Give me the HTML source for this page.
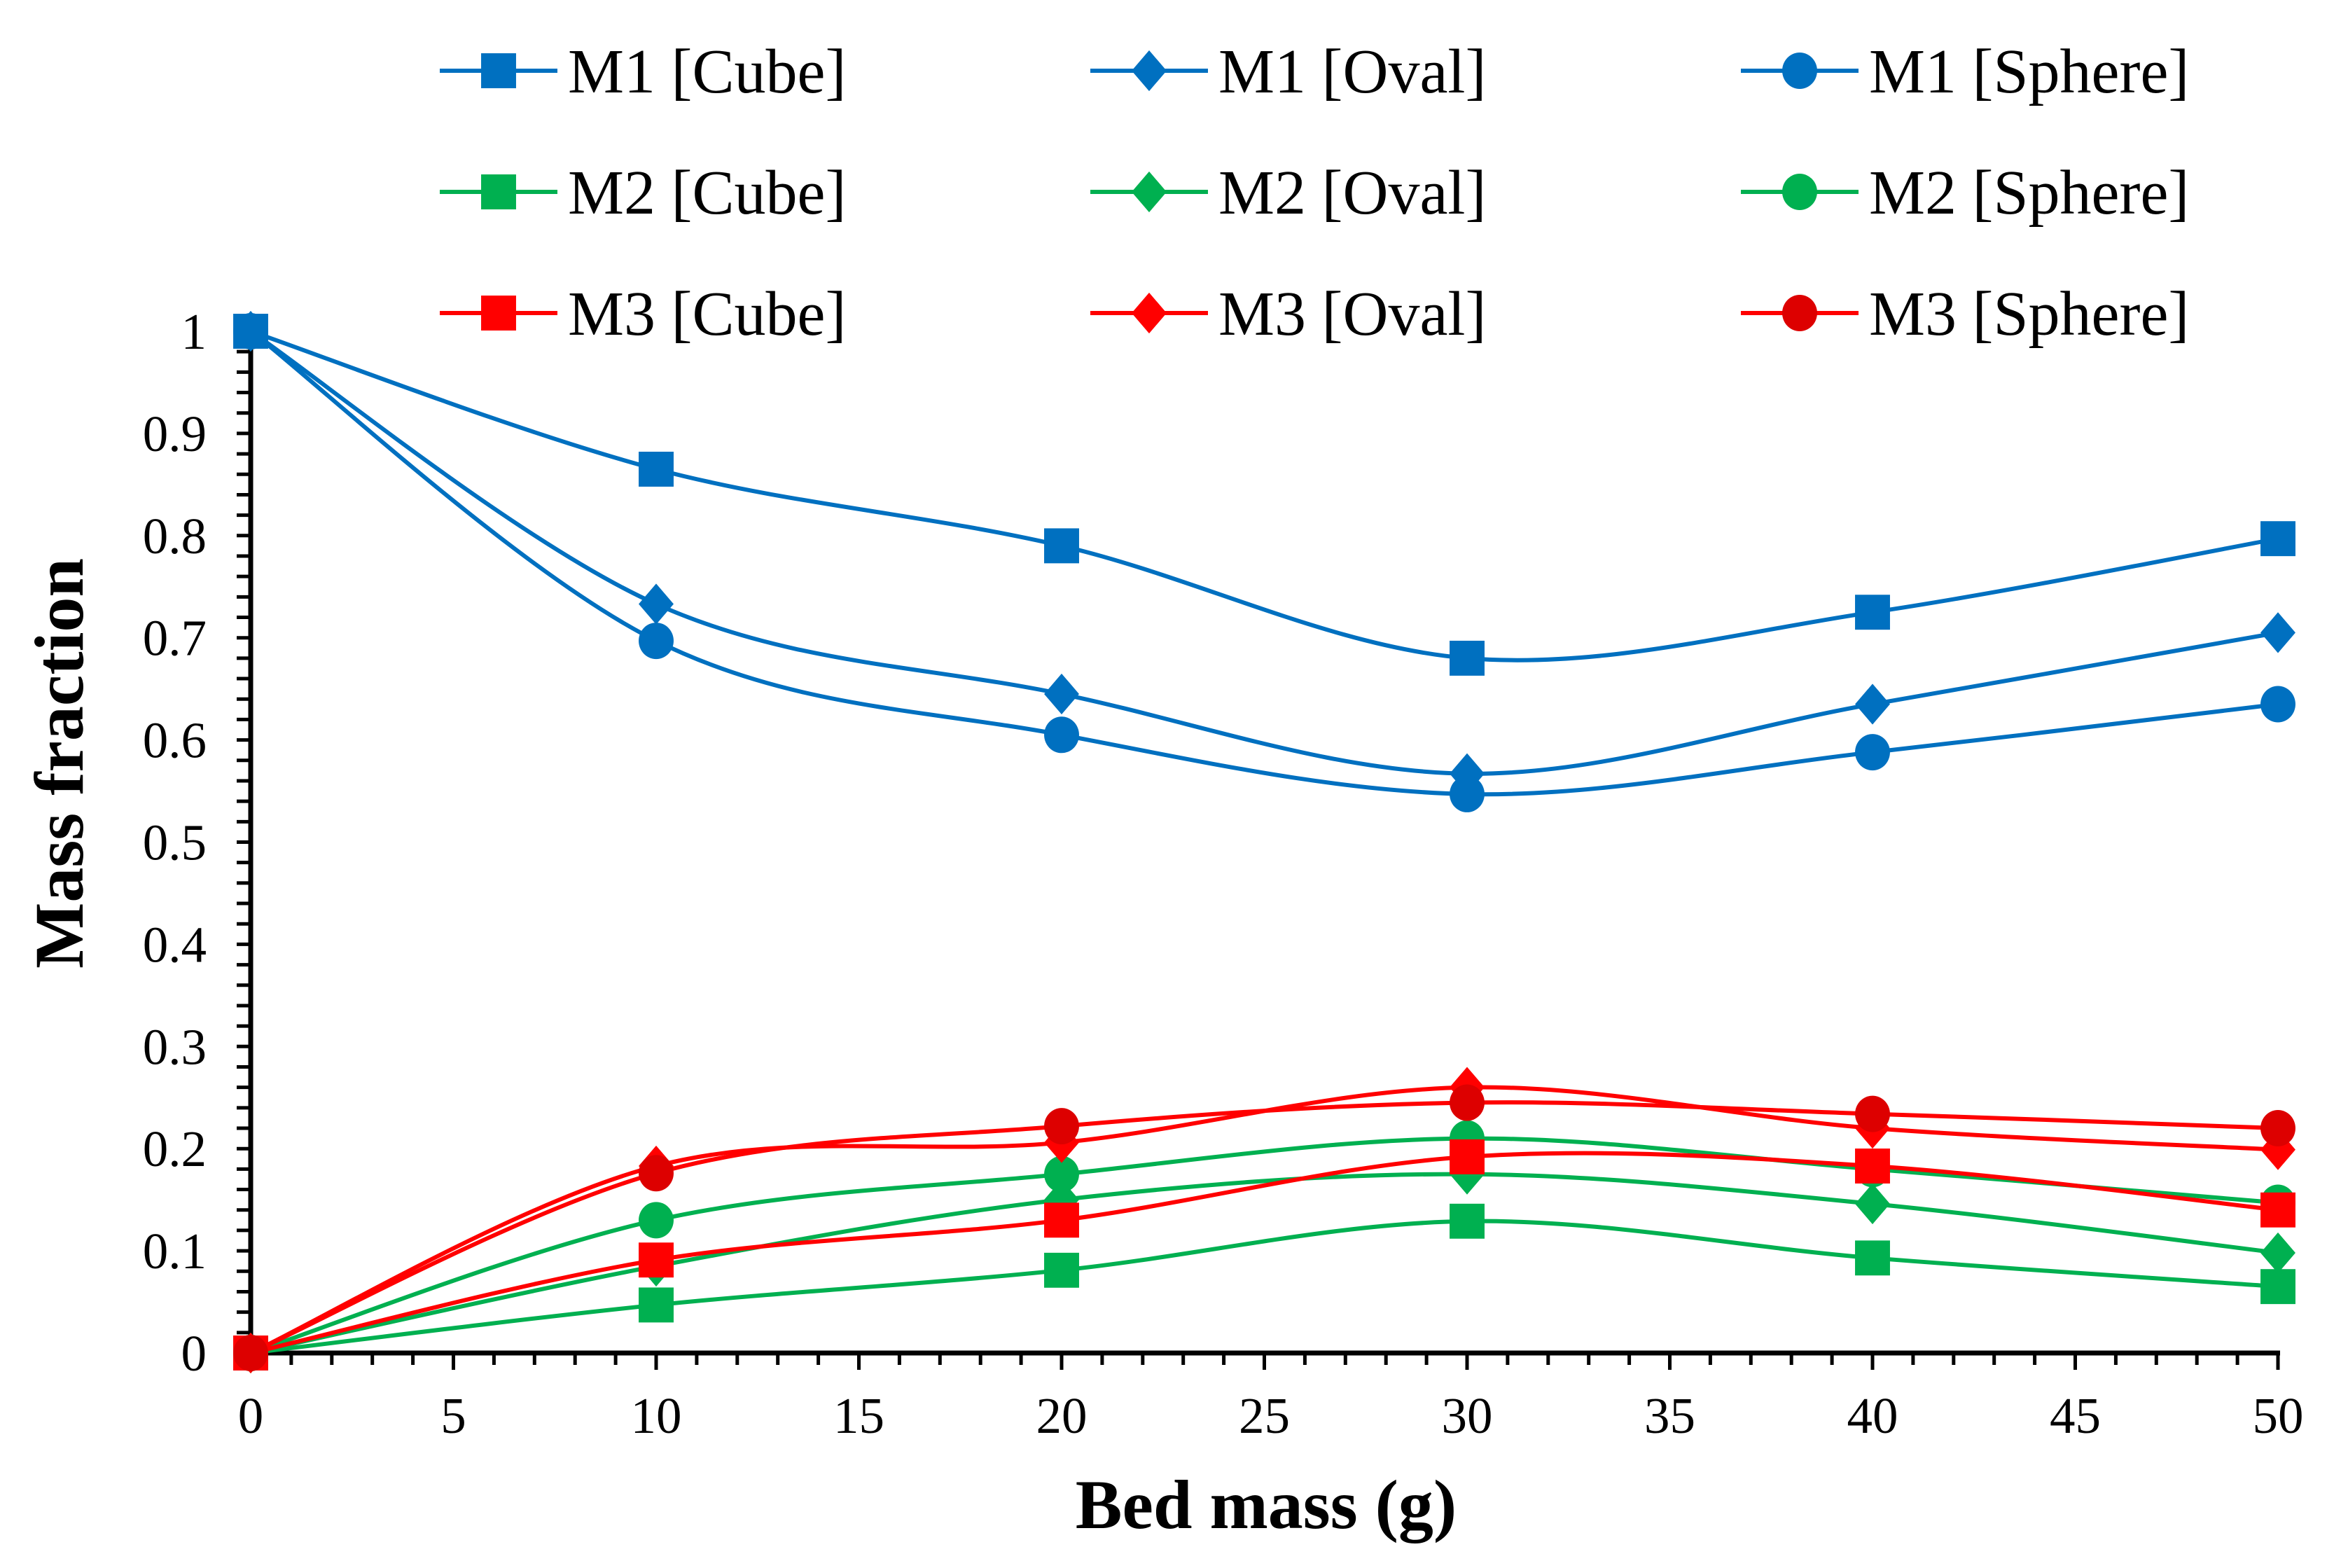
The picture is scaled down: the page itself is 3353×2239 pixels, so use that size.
<!DOCTYPE html>
<html><head><meta charset="utf-8"><style>
html,body{margin:0;padding:0;background:#fff;}
svg{display:block;font-family:"Liberation Serif",serif;}
</style></head><body>
<svg id="chart" width="3353" height="2239" viewBox="0 0 3353 2239" xmlns="http://www.w3.org/2000/svg">
<rect width="3353" height="2239" fill="#fff"/>
<g id="ticks"></g>
<g id="series"></g>
<g id="legend"></g>
<text x="0" y="0" transform="translate(118,1090) rotate(-90)" text-anchor="middle" font-size="100" font-weight="bold">Mass fraction</text>
<text x="1808" y="2182" text-anchor="middle" font-size="100" font-weight="bold">Bed mass (g)</text>
</svg>
<script>
const categories = [0, 10, 20, 30, 40, 50];
const m1Cube = [1, 0.865, 0.79, 0.68, 0.725, 0.797];
const m1Oval = [1, 0.733, 0.645, 0.567, 0.635, 0.705];
const m1Sphere = [1, 0.697, 0.605, 0.547, 0.588, 0.635];
const m2Cube = [0, 0.047, 0.081, 0.129, 0.093, 0.065];
const m2Oval = [0, 0.085, 0.15, 0.175, 0.146, 0.098];
const m2Sphere = [0, 0.13, 0.175, 0.21, 0.18, 0.147];
const m3Cube = [0, 0.091, 0.13, 0.192, 0.183, 0.14];
const m3Oval = [0, 0.183, 0.206, 0.26, 0.22, 0.199];
const m3Sphere = [0, 0.176, 0.222, 0.245, 0.234, 0.22];
const xTickLabels = ["0","5","10","15","20","25","30","35","40","45","50"];
const yTickLabels = ["0","0.1","0.2","0.3","0.4","0.5","0.6","0.7","0.8","0.9","1"];

const NS = "http://www.w3.org/2000/svg";
const X0 = 358, XU = 57.9, Y0 = 1932, YU = 1459;
function xs(v){ return X0 + v*XU; }
function ys(v){ return Y0 - v*YU; }
function mk(tag, attrs, parent){
  const e = document.createElementNS(NS, tag);
  for (const k in attrs) e.setAttribute(k, attrs[k]);
  parent.appendChild(e); return e;
}
const tg = document.getElementById('ticks');
const yAxis = mk('line',{x1:X0,y1:ys(1)-2,x2:X0,y2:Y0+3,stroke:'#000','stroke-width':7},tg);


const xAxis = mk('line',{x1:X0-3,y1:Y0,x2:xs(50)+3,y2:Y0,stroke:'#000','stroke-width':7},tg);


for (let i=0;i<=50;i++){
  if (i===0) continue;
  const major = i%5===0;
  const t = mk('line',{x1:xs(i),y1:Y0,x2:xs(i),y2:Y0+(major?24:17),stroke:'#000','stroke-width':5},tg);
  
  
}
xTickLabels.forEach((lab,i)=>{
  const t = mk('text',{x:xs(i*5),y:2046,'text-anchor':'middle','font-size':73},tg);
  t.textContent = lab;
  
  
});
for (let i=1;i<=50;i++){
  const v=i*0.02;
  const t = mk('line',{x1:X0-20,y1:ys(v),x2:X0,y2:ys(v),stroke:'#000','stroke-width':5},tg);
  
  
}
yTickLabels.forEach((lab,i)=>{
  const t = mk('text',{x:295,y:ys(i*0.1)+25,'text-anchor':'end','font-size':73},tg);
  t.textContent = lab;
  
  
});

const BLUE='#0070C0', GREEN='#00B050', RED='#FF0000';
const seriesList = [
  {name:'M1 [Cube]', vals:m1Cube, color:BLUE, mark:'square', fill:BLUE},
  {name:'M1 [Oval]', vals:m1Oval, color:BLUE, mark:'diamond', fill:BLUE},
  {name:'M1 [Sphere]', vals:m1Sphere, color:BLUE, mark:'circle', fill:BLUE},
  {name:'M2 [Cube]', vals:m2Cube, color:GREEN, mark:'square', fill:GREEN},
  {name:'M2 [Oval]', vals:m2Oval, color:GREEN, mark:'diamond', fill:GREEN},
  {name:'M2 [Sphere]', vals:m2Sphere, color:GREEN, mark:'circle', fill:GREEN},
  {name:'M3 [Cube]', vals:m3Cube, color:RED, mark:'square', fill:RED},
  {name:'M3 [Oval]', vals:m3Oval, color:RED, mark:'diamond', fill:RED},
  {name:'M3 [Sphere]', vals:m3Sphere, color:RED, mark:'circle', fill:'#DD0000'}
];
function smoothPath(pts){
  let d = 'M'+pts[0][0]+','+pts[0][1];
  for (let i=0;i<pts.length-1;i++){
    const p0=pts[i-1]||pts[i], p1=pts[i], p2=pts[i+1], p3=pts[i+2]||p2;
    const k=1/6;
    const c1=[p1[0]+(p2[0]-p0[0])*k, p1[1]+(p2[1]-p0[1])*k];
    const c2=[p2[0]-(p3[0]-p1[0])*k, p2[1]-(p3[1]-p1[1])*k];
    d+=' C'+c1[0]+','+c1[1]+' '+c2[0]+','+c2[1]+' '+p2[0]+','+p2[1];
  }
  return d;
}
function marker(type,cx,cy,fill,parent,s){
  s = s||1.04;
  if (type==='square') return mk('rect',{x:cx-24*s,y:cy-24*s,width:48*s,height:48*s,fill:fill},parent);
  if (type==='circle') return mk('ellipse',{cx:cx,cy:cy,rx:24*s,ry:25*s,fill:fill},parent);
  return mk('polygon',{points:`${cx},${cy-28*s} ${cx+24*s},${cy} ${cx},${cy+28*s} ${cx-24*s},${cy}`,fill:fill},parent);
}
const sg = document.getElementById('series');
seriesList.forEach(s=>{
  const g = mk('g',{},sg);
  
  
  const pts = categories.map((c,i)=>[xs(c), ys(s.vals[i])]);
  const p = mk('path',{d:smoothPath(pts),fill:'none',stroke:s.color,'stroke-width':6},g);
  
  
  pts.forEach(pt=>{
    const m = marker(s.mark,pt[0],pt[1],s.fill,g);
    
    
  });
});
const lg = document.getElementById('legend');
const colLineX = [628, 1557, 2486];
const rowY = [101, 274, 447];
seriesList.forEach((s,i)=>{
  const col=i%3, row=Math.floor(i/3);
  const g = mk('g',{},lg);
  
  
  const x=colLineX[col], y=rowY[row];
  mk('line',{x1:x,y1:y,x2:x+168,y2:y,stroke:s.color,'stroke-width':6},g);
  marker(s.mark,x+84,y,s.fill,g);
  const t = mk('text',{x:x+183,y:y+31,'font-size':90},g);
  t.textContent = s.name;
});
</script>
</body></html>
